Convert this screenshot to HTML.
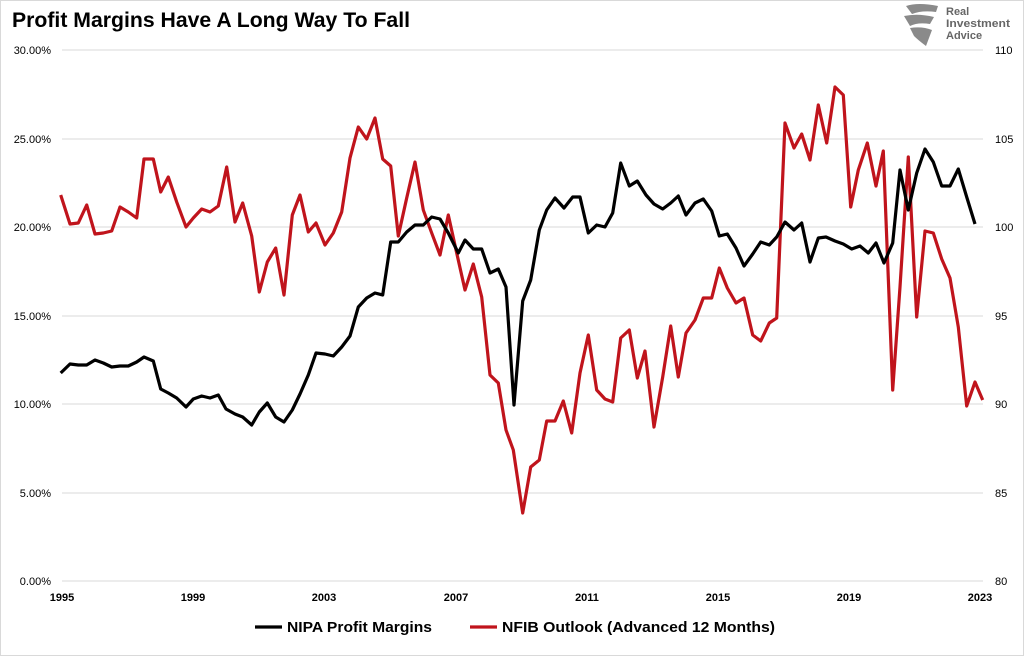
<!DOCTYPE html>
<html><head><meta charset="utf-8"><style>
html,body{margin:0;padding:0;background:#fff;}
svg{display:block;font-family:"Liberation Sans",Arial,sans-serif;}
</style></head><body>
<svg width="1024" height="656" viewBox="0 0 1024 656" xmlns="http://www.w3.org/2000/svg">
<rect x="0.5" y="0.5" width="1023" height="655" fill="#fff" stroke="#d9d9d9"/>
<text x="12" y="27" font-size="21" font-weight="bold" textLength="398" lengthAdjust="spacingAndGlyphs">Profit Margins Have A Long Way To Fall</text>
<g>
<path d="M906 6 Q918 2 938 6 L936 12 Q922 10 912 14 Z M904 16 Q918 13 934 17 L930 24 Q918 22 910 26 Z M910 28 Q922 26 932 30 L926 46 Q918 40 914 36 Z" fill="#8a8a8a"/>
<text x="946" y="15" font-size="11" font-weight="bold" fill="#666">Real</text>
<text x="946" y="27" font-size="11" font-weight="bold" fill="#666" textLength="64" lengthAdjust="spacingAndGlyphs">Investment</text>
<text x="946" y="39" font-size="11" font-weight="bold" fill="#666">Advice</text>
</g>
<g stroke="#d9d9d9" stroke-width="1">
<line x1="62" x2="983" y1="50" y2="50"/><line x1="62" x2="983" y1="139" y2="139"/><line x1="62" x2="983" y1="227" y2="227"/><line x1="62" x2="983" y1="316" y2="316"/><line x1="62" x2="983" y1="404" y2="404"/><line x1="62" x2="983" y1="493" y2="493"/><line x1="62" x2="983" y1="581" y2="581"/>
</g>
<g font-size="11" fill="#000" text-anchor="end">
<text x="51" y="54">30.00%</text><text x="51" y="143">25.00%</text><text x="51" y="231">20.00%</text><text x="51" y="320">15.00%</text><text x="51" y="408">10.00%</text><text x="51" y="497">5.00%</text><text x="51" y="585">0.00%</text>
</g>
<g font-size="11" fill="#000" text-anchor="start">
<text x="995" y="54">110</text><text x="995" y="143">105</text><text x="995" y="231">100</text><text x="995" y="320">95</text><text x="995" y="408">90</text><text x="995" y="497">85</text><text x="995" y="585">80</text>
</g>
<g font-size="11" font-weight="bold" fill="#000" text-anchor="middle">
<text x="62" y="601">1995</text><text x="193" y="601">1999</text><text x="324" y="601">2003</text><text x="456" y="601">2007</text><text x="587" y="601">2011</text><text x="718" y="601">2015</text><text x="849" y="601">2019</text><text x="980" y="601">2023</text>
</g>
<polyline fill="none" stroke="#c0141c" stroke-width="3.2" stroke-linejoin="round" points="60.7,195 70,224 78.3,223 86.7,205 95,234 103.3,233 111.7,231 120,207 128.3,212 136.7,218 144,159 153.3,159 160.7,192 168.3,177 176.7,202 186,227 193.3,218 201.7,209 210,212 218.3,206 226.7,167 235,222 242.7,203 251.7,236 259.3,292 267.3,262 275.7,248 284,295 292.3,215 300,195 308.3,232 316,223 325,245 333.3,233 341.7,212 350,158 358.3,127 366.7,139 375,118 382.7,159 390.7,166 398.3,236 406.7,198 415,162 423.3,210 431.7,233 440,255 448.3,215 456.7,253 465,290 473.3,264 481.7,297 490,375 498.3,383 506,430 513.3,450 522.7,513 530.7,467 539.3,460 546.7,421 555,421 563.3,401 571.7,433 580,373 588.3,335 596.7,390 605,399 612.7,402 620.7,338 629.3,330 637.3,378 645,351 654,427 662.7,377 670.7,326 678.3,377 686,333 695,320 703.3,298 711.7,298 719.3,268 727.3,288 736,303 744,298 752.7,335 760.7,341 769.3,323 776.7,318 785,123 794,148 801.7,134 810,160 818.3,105 826.7,143 835,87 843.3,95 850.7,207 858.3,170 867.3,143 876,186 883.3,151 892.7,390 900,287 908.3,157 916.7,317 925,231 933.3,233 941.7,259 950,278 958.3,327 966.7,406 975,382 982.7,400"/>
<polyline fill="none" stroke="#000" stroke-width="3.2" stroke-linejoin="round" points="60.7,373 70,364 78.3,365 86.7,365 95,360 103.3,363 111.7,367 120,366 128.3,366 136.7,362 144,357 153.3,361 160.7,389 168.3,393 176.7,398 186,407 193.3,399 201.7,396 210,398 218.3,395 226,409 235,414 242.7,417 251.7,425 259.3,412 267.3,403 275.7,417 284,422 292.3,410 300,394 308.3,375 316,353 325,354 333.3,356 341.7,347 350,336 358.3,307 366.7,298 375,293 382.7,295 390.7,242 398.3,242 406.7,232 415,225 423.3,225 431.7,217 440,219 448.3,233 458.3,253 465,240 473.3,249 481.7,249 490,273 498.3,269 506,287 514,405 522.7,301 530.7,280 539.3,230 546.7,210 555,198 564,208 572.7,197 580,197 588.3,233 596.7,225 605,227 612.7,213 620.7,163 629.3,186 637.3,181 646,195 654,204 662.7,209 670.7,203 678.3,196 686,215 695,203 703.3,199 711.7,211 719.3,236 727.3,234 736,248 744,266 752.7,254 760.7,242 769.3,245 776.7,237 785,222 794,230 801.7,223 810,262 818.3,238 826,237 835,241 843.3,244 851.7,249 860,246 868.3,253 876,243 884,263 892.7,243 900,170 908.3,210 916.7,173 925,149 933.3,162 941.7,186 950,186 958.3,169 966.7,197 975,224"/>
<line x1="255" x2="282" y1="627" y2="627" stroke="#000" stroke-width="3.2"/>
<text x="287" y="632" font-size="15" font-weight="bold" textLength="145" lengthAdjust="spacingAndGlyphs">NIPA Profit Margins</text>
<line x1="470" x2="497" y1="627" y2="627" stroke="#c0141c" stroke-width="3.2"/>
<text x="502" y="632" font-size="15" font-weight="bold" textLength="273" lengthAdjust="spacingAndGlyphs">NFIB Outlook (Advanced 12 Months)</text>
</svg>
</body></html>
